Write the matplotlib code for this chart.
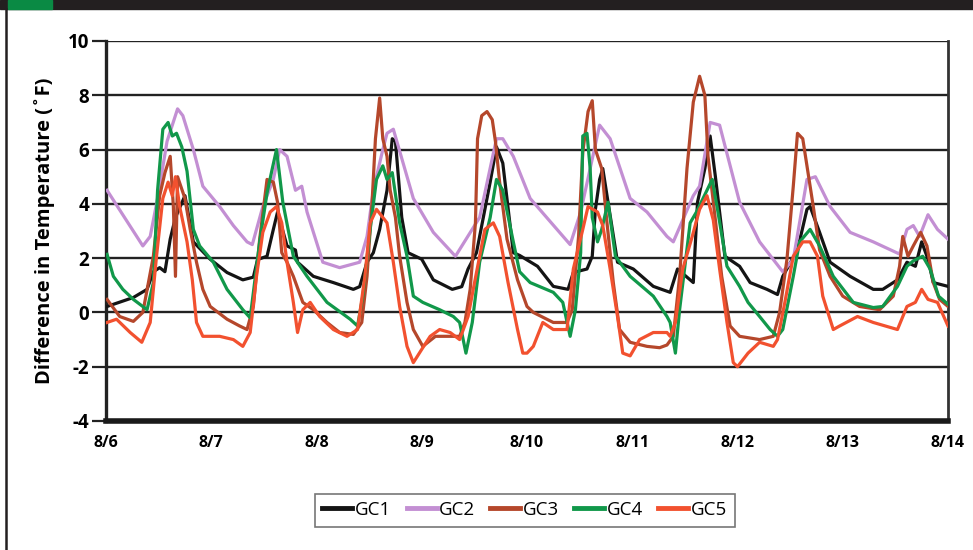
import matplotlib
matplotlib.use("Agg")
import matplotlib.pyplot as plt
from matplotlib.patches import Rectangle
from matplotlib.lines import Line2D

plt.rcParams["font.family"] = ["Open Sans", "DejaVu Sans"]

# days since 8/6 00:00, temperature difference in F
gc1_day = [0.01, 0.26, 0.39, 0.45, 0.51, 0.56, 0.61, 0.66, 0.75, 0.83, 0.99, 1.15, 1.30, 1.40,
           1.44, 1.53, 1.59, 1.63, 1.72, 1.80, 1.82, 1.97, 2.16, 2.35, 2.41, 2.48, 2.54, 2.60,
           2.67, 2.72, 2.75, 2.81, 2.87, 3.00, 3.11, 3.29, 3.38, 3.44, 3.52, 3.65, 3.71, 3.77,
           3.87, 3.93, 4.10, 4.25, 4.39, 4.44, 4.57, 4.62, 4.65, 4.69, 4.72, 4.77, 4.86, 5.01,
           5.20, 5.36, 5.43, 5.55, 5.58, 5.62, 5.69, 5.74, 5.79, 5.88, 6.02, 6.12, 6.28, 6.38,
           6.43, 6.57, 6.66, 6.69, 6.78, 6.88, 7.07, 7.29, 7.38, 7.52, 7.61, 7.69, 7.75, 7.81,
           7.86, 8.00]
gc1_val = [0.22, 0.55, 0.85, 1.5, 1.65, 1.5, 2.7, 3.5, 4.3, 2.6, 1.96, 1.47, 1.2, 1.3,
           1.95, 2.07, 3.06, 3.7, 2.45, 2.3, 1.85, 1.33, 1.1, 0.85, 0.95, 1.85, 2.2, 3.06,
           4.5, 6.4, 6.3, 3.5, 2.2, 1.96, 1.2, 0.85, 0.95, 1.6, 2.2, 4.8, 6.1, 5.5,
           2.2, 2.1, 1.7, 0.96, 0.85, 1.47, 1.6, 2.07, 3.8, 4.9, 5.3, 4.06, 1.85, 1.6,
           0.96, 0.74, 1.6, 1.2, 1.1, 4.06, 5.3, 6.5, 5.0, 2.07, 1.7, 1.1, 0.85, 0.66,
           1.33, 2.3, 3.8, 3.9, 2.95, 1.85, 1.33, 0.85, 0.85, 1.2, 1.85, 1.7, 2.6, 1.96,
           1.1, 0.96]

gc2_day = [0.01, 0.35, 0.42, 0.49, 0.58, 0.68, 0.73, 0.83, 0.92, 1.08, 1.21, 1.34, 1.39,
           1.49, 1.59, 1.65, 1.72, 1.80, 1.86, 1.91, 2.06, 2.22, 2.41, 2.48, 2.54, 2.63,
           2.67, 2.73, 2.92, 3.11, 3.32, 3.55, 3.71, 3.77, 3.87, 4.03, 4.41, 4.51, 4.69,
           4.79, 4.98, 5.14, 5.33, 5.39, 5.58, 5.64, 5.74, 5.83, 6.02, 6.21, 6.43, 6.53,
           6.66, 6.74, 6.88, 7.07, 7.29, 7.54, 7.61, 7.67, 7.73, 7.81, 7.90, 8.00]
gc2_val = [4.5, 2.45, 2.8, 4.2, 6.3, 7.5, 7.25, 6.0, 4.65, 3.9, 3.2, 2.6, 2.5,
           3.9, 4.9, 6.0, 5.75, 4.5, 4.65, 3.7, 1.85, 1.65, 1.85, 2.8, 4.5, 6.0,
           6.6, 6.75, 4.2, 2.95, 2.07, 3.5, 6.4, 6.4, 5.75, 4.2, 2.5, 3.7, 6.9,
           6.4, 4.2, 3.7, 2.8, 2.6, 4.3, 4.65, 7.0, 6.9, 4.06, 2.6, 1.5, 1.95,
           4.9, 5.0, 3.9, 2.95, 2.6, 2.15, 3.06, 3.2, 2.8, 3.6, 3.06, 2.7]

gc3_day = [0.01, 0.13, 0.26, 0.35, 0.45, 0.51, 0.56, 0.61, 0.64, 0.66, 0.68, 0.75, 0.80,
           0.86, 0.92, 0.99, 1.15, 1.27, 1.34, 1.40, 1.46, 1.53, 1.59, 1.63, 1.67, 1.72,
           1.78, 1.87, 1.97, 2.10, 2.22, 2.35, 2.43, 2.48, 2.53, 2.56, 2.60, 2.63, 2.67,
           2.70, 2.75, 2.79, 2.86, 2.92, 3.01, 3.13, 3.24, 3.36, 3.41, 3.46, 3.51, 3.53,
           3.57, 3.62, 3.67, 3.70, 3.74, 3.81, 3.91, 4.00, 4.06, 4.25, 4.38, 4.43, 4.49,
           4.53, 4.58, 4.62, 4.65, 4.71, 4.76, 4.82, 4.88, 4.98, 5.14, 5.26, 5.33, 5.39,
           5.45, 5.52, 5.58, 5.64, 5.69, 5.72, 5.79, 5.85, 5.93, 6.02, 6.21, 6.34, 6.40,
           6.47, 6.53, 6.57, 6.62, 6.67, 6.72, 6.78, 6.88, 7.00, 7.16, 7.35, 7.48, 7.54,
           7.57, 7.62, 7.67, 7.74, 7.80, 7.86, 7.92, 8.00]
gc3_val = [0.48, -0.15, -0.33, 0.0, 2.07, 4.3, 5.15, 5.75, 3.9, 1.33, 5.0, 4.2, 3.06,
           1.85, 0.85, 0.22, -0.25, -0.5, -0.63, 0.22, 2.7, 4.9, 4.8, 4.06, 2.2, 1.85,
           1.33, 0.37, 0.1, -0.37, -0.74, -0.81, -0.37, 1.33, 4.2, 6.4, 7.9, 6.4, 5.75,
           4.5, 3.5, 2.07, 0.37, -0.63, -1.25, -0.88, -0.88, -0.88, -0.37, 0.85, 3.3, 6.4,
           7.25, 7.4, 7.1, 6.3, 4.8, 2.7, 1.2, 0.22, 0.0, -0.37, -0.37, 0.1, 2.8,
           5.9, 7.4, 7.8, 6.0, 5.3, 3.3, 1.1, -0.63, -1.1, -1.25, -1.3, -1.2, -0.88,
           1.33, 5.3, 7.75, 8.7, 8.0, 5.75, 3.4, 1.33, -0.5, -0.88, -1.0, -0.88, 0.0,
           1.96, 4.65, 6.6, 6.4, 5.15, 3.9, 2.3, 1.33, 0.6, 0.22, 0.1, 0.6, 1.7,
           2.8, 2.07, 2.45, 2.95, 2.45, 1.1, 0.48, 0.22]

gc4_day = [0.01, 0.07, 0.16, 0.26, 0.39, 0.45, 0.49, 0.54, 0.59, 0.63, 0.67, 0.72, 0.77,
           0.83, 0.89, 1.02, 1.15, 1.30, 1.37, 1.46, 1.53, 1.58, 1.62, 1.68, 1.78, 1.91,
           2.10, 2.32, 2.39, 2.44, 2.51, 2.57, 2.63, 2.67, 2.72, 2.79, 2.86, 2.92, 3.01,
           3.17, 3.30, 3.36, 3.42, 3.48, 3.55, 3.65, 3.71, 3.77, 3.87, 3.93, 4.03, 4.25,
           4.34, 4.41, 4.46, 4.51, 4.53, 4.57, 4.60, 4.62, 4.67, 4.71, 4.77, 4.84, 4.98,
           5.20, 5.33, 5.36, 5.41, 5.45, 5.55, 5.61, 5.71, 5.76, 5.81, 5.90, 6.02, 6.10,
           6.21, 6.31, 6.38, 6.43, 6.53, 6.59, 6.69, 6.78, 6.91, 7.10, 7.29, 7.38, 7.52,
           7.61, 7.67, 7.76, 7.83, 7.91, 8.00]
gc4_val = [2.14, 1.33, 0.85, 0.48, 0.1, 1.1, 4.5, 6.75, 7.0, 6.5, 6.6, 6.1, 5.2,
           3.06, 2.45, 1.85, 0.85, 0.1, -0.2, 2.6, 4.4, 5.3, 6.0, 4.06, 2.07, 1.33,
           0.37, -0.25, -0.5, 0.6, 3.06, 4.9, 5.4, 4.9, 5.15, 3.3, 2.07, 0.6, 0.37,
           0.1, -0.15, -0.37, -1.5, -0.37, 1.85, 3.5, 4.9, 4.5, 2.6, 1.5, 1.1, 0.74,
           0.37, -0.88, 0.1, 2.2, 6.5, 6.6, 5.3, 3.5, 2.6, 3.06, 4.06, 2.07, 1.33,
           0.6, -0.15, -0.37, -1.5, 0.1, 3.3, 3.7, 4.5, 4.9, 3.8, 1.7, 0.96, 0.37,
           -0.15, -0.63, -0.88, -0.63, 1.33, 2.6, 3.06, 2.45, 1.33, 0.37, 0.18, 0.22, 0.96,
           1.7, 1.9, 2.07, 1.6, 0.6, 0.3]

gc5_day = [0.01, 0.10, 0.23, 0.34, 0.42, 0.48, 0.54, 0.59, 0.63, 0.66, 0.70, 0.77, 0.82,
           0.86, 0.92, 1.08, 1.21, 1.30, 1.37, 1.43, 1.49, 1.56, 1.62, 1.67, 1.72, 1.78,
           1.82, 1.87, 1.94, 2.03, 2.16, 2.29, 2.39, 2.46, 2.51, 2.57, 2.63, 2.67, 2.73,
           2.79, 2.86, 2.92, 3.00, 3.08, 3.17, 3.27, 3.36, 3.44, 3.52, 3.60, 3.68, 3.74,
           3.82, 3.91, 3.96, 4.00, 4.06, 4.15, 4.25, 4.38, 4.44, 4.53, 4.58, 4.67, 4.72,
           4.79, 4.86, 4.91, 4.98, 5.07, 5.20, 5.33, 5.36, 5.41, 5.48, 5.57, 5.64, 5.71,
           5.77, 5.83, 5.90, 5.96, 6.00, 6.10, 6.21, 6.34, 6.38, 6.45, 6.53, 6.62, 6.69,
           6.76, 6.81, 6.91, 6.97, 7.14, 7.29, 7.52, 7.61, 7.69, 7.75, 7.81, 7.90, 8.00]
gc5_val = [-0.37, -0.25, -0.74, -1.1, -0.37, 2.07, 4.2, 4.8, 4.3, 5.0, 3.9, 2.6, 1.2,
           -0.37, -0.88, -0.88, -1.0, -1.25, -0.74, 1.33, 2.95, 3.7, 3.9, 3.3, 1.85, 0.37,
           -0.74, 0.1, 0.37, -0.15, -0.63, -0.88, -0.63, 1.33, 3.3, 3.8, 3.5, 3.3, 1.85,
           0.22, -1.25, -1.85, -1.36, -0.88, -0.63, -0.74, -1.0, -0.15, 1.47, 3.06, 3.3, 2.8,
           1.1, -0.63, -1.5, -1.5, -1.25, -0.37, -0.63, -0.63, 1.6, 3.06, 3.9, 3.7, 3.2,
           1.6, -0.15, -1.5, -1.6, -1.0, -0.74, -0.74, -0.88, -0.37, 1.6, 2.8, 3.8, 4.3,
           3.4, 1.6, -0.37, -1.85, -2.0, -1.5, -1.1, -1.25, -1.0, 0.37, 2.07, 2.6, 2.6,
           2.07, 0.6, -0.63, -0.5, -0.15, -0.37, -0.63, 0.22, 0.37, 0.85, 0.48, 0.37, -0.5]

series = [
    ("GC1", gc1_day, gc1_val, "#141414"),
    ("GC2", gc2_day, gc2_val, "#c38fd3"),
    ("GC3", gc3_day, gc3_val, "#b5472b"),
    ("GC4", gc4_day, gc4_val, "#11984a"),
    ("GC5", gc5_day, gc5_val, "#f2512f"),
]

x_ticks = list(range(9))
x_labels = ["8/6", "8/7", "8/8", "8/9", "8/10", "8/11", "8/12", "8/13", "8/14"]
y_ticks = [-4, -2, 0, 2, 4, 6, 8, 10]

fig = plt.figure(figsize=(9.73, 5.5), dpi=100)
ax = fig.add_axes([106 / 973, 1 - 421 / 550, 842 / 973, 380 / 550])

for name, d, v, c in series:
    ax.plot(d, v, color=c, lw=2.3, label=name, solid_joinstyle="round", zorder=3)

ax.set_xlim(0, 8)
ax.set_ylim(-4, 10)
ax.set_yticks(y_ticks)
ax.set_yticklabels([str(t) for t in y_ticks], fontsize=13.5, fontweight="bold")
ax.set_xticks(x_ticks)
ax.set_xticklabels(x_labels, fontsize=11.5, fontweight="bold")
ax.tick_params(axis="y", length=10, width=1.6, color="#222", pad=2)
ax.tick_params(axis="x", length=0, pad=10)
for t in y_ticks[1:]:
    ax.axhline(t, color="#222", lw=1.7, zorder=2)

ax.spines["top"].set_visible(False)
ax.spines["left"].set_linewidth(2.4)
ax.spines["left"].set_color("#222")
ax.spines["bottom"].set_linewidth(4)
ax.spines["bottom"].set_color("#1a1a1a")
ax.spines["right"].set_linewidth(2)
ax.spines["right"].set_color("#333")

ax.set_ylabel("Difference in Temperature (˚F)", fontsize=14.5, fontweight="bold")
ax.yaxis.set_label_coords(-0.06, 0.5)

handles = [Line2D([0], [0], color=c, lw=3.5) for _, _, _, c in series]
leg = fig.legend(handles, [s[0] for s in series], loc="center", ncol=5,
                 bbox_to_anchor=(525 / 973, 1 - 510 / 550), fontsize=13.5,
                 frameon=True, fancybox=False, edgecolor="#555",
                 handlelength=1.6, handletextpad=0.15, columnspacing=0.8,
                 borderpad=0.4)
leg.get_frame().set_linewidth(1.2)

# header band and left rule
fig.patches.append(Rectangle((0, 1 - 9 / 550), 1, 9 / 550, transform=fig.transFigure,
                             color="#231f20", zorder=0))
fig.patches.append(Rectangle((8 / 973, 1 - 9 / 550), 44 / 973, 9 / 550,
                             transform=fig.transFigure, color="#0a8a44", zorder=1))
fig.lines.append(Line2D([6 / 973, 6 / 973], [0, 1 - 9 / 550], transform=fig.transFigure,
                        color="#231f20", lw=1.8))

fig.savefig("out.png", dpi=100, facecolor="white")
